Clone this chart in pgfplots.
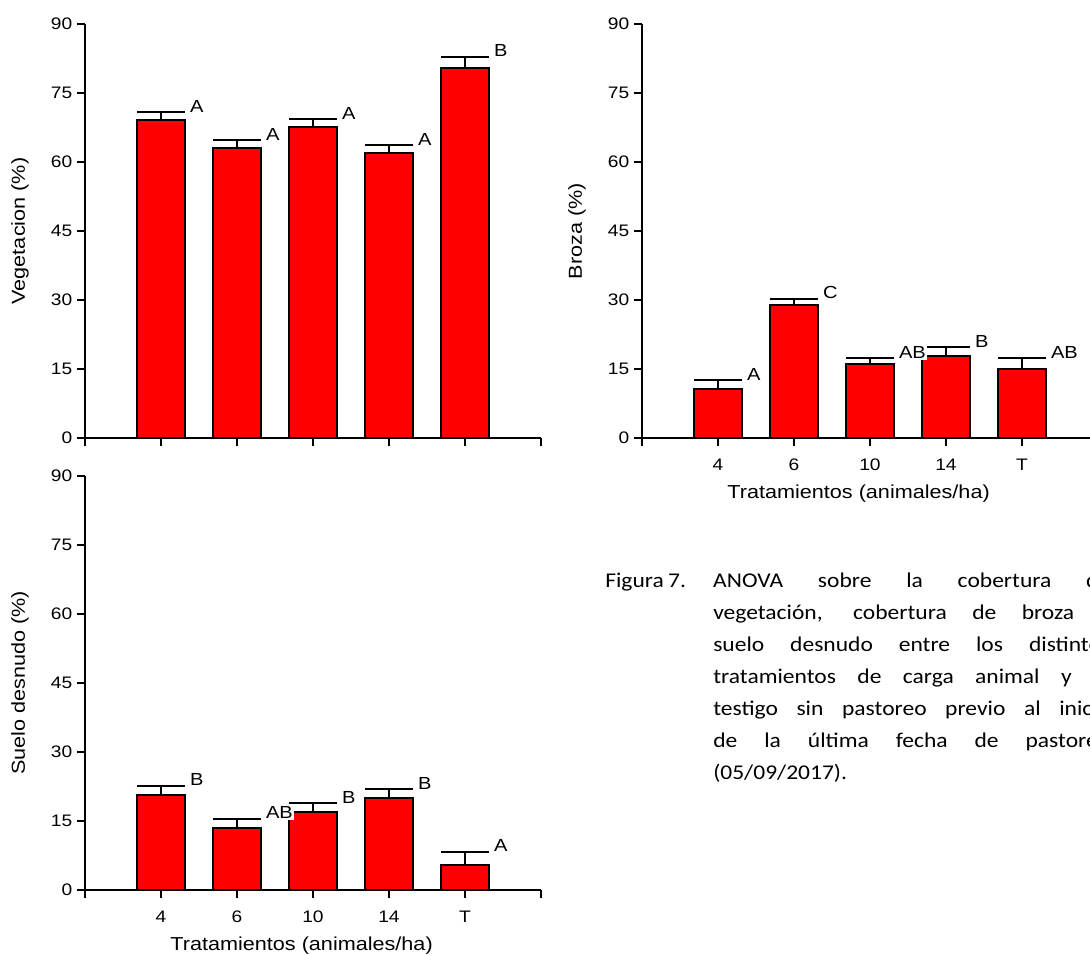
\documentclass[border=0pt]{standalone}
\usepackage{pgfplots}
\pgfplotsset{compat=1.18}
\usepackage{pgfplotstable}
\usepackage{fontspec}
\setmainfont{Liberation Sans}[FakeStretch=1.15]
\newfontfamily\capfont{Carlito}[FakeStretch=1.12]

\newlength{\px}\setlength{\px}{0.75pt}
\newlength{\capW}\setlength{\capW}{397\px}
\newcommand\tickfont{\fontsize{12.5pt}{14pt}\selectfont}
\newcommand\labfont{\fontsize{14.1pt}{16pt}\selectfont}
\newcommand\letfont{\fontsize{13.1pt}{15pt}\selectfont}

% mean, standard error and Tukey letter per stocking rate
\pgfplotstableread{
x v e lab
1 69.1 1.7 A
2 63.0 1.7 A
3 67.6 1.7 A
4 61.9 1.7 A
5 80.4 2.5 B
}\vegtab
\pgfplotstableread{
x v e lab
1 10.7 1.8 A
2 29.0 1.3 C
3 16.0 1.3 AB
4 17.9 1.8 B
5 14.9 2.4 AB
}\brozatab
\pgfplotstableread{
x v e lab
1 20.6 2.1 B
2 13.5 2.0 AB
3 16.9 2.0 B
4 19.9 2.0 B
5 5.5 2.8 A
}\suelotab

\pgfplotsset{
  prism/.style={
    scale only axis, width=342pt, height=310.5pt,
    xmin=0, xmax=6, ymin=0, ymax=90,
    axis x line*=bottom, axis y line*=left,
    axis line style={line width=1.4pt, -},
    ytick={0,15,...,90}, xtick={0,...,6},
    tick align=outside, major tick length=6pt,
    every tick/.style={black, line width=1.4pt},
    tick label style={font=\tickfont},
    xticklabel style={yshift=-6pt},
    label style={font=\labfont},
    /pgf/number format/assume math mode=true,
    clip=false,
    ylabel style={at={(axis description cs:-0.1425,0.5)}, anchor=center},
    xlabel style={at={(axis description cs:0.475,-0.134)}, anchor=center},
  },
  bars/.style={ybar, bar width=0.62, bar shift=0pt, fill=red, draw=black,
    line width=1.5pt,
    error bars/.cd, y dir=plus, y explicit,
    error bar style={line width=1.5pt, black},
    error mark options={rotate=90, line width=1.5pt, mark size=17.9pt, black}},
  letters/.style={draw=none, mark=none, nodes near coords,
    point meta=explicit symbolic,
    nodes near coords style={anchor=base west, xshift=20.5pt, fill=white,
      inner sep=1.1pt, font=\letfont, text=black}},
}

\begin{document}
\begin{tikzpicture}
\useasboundingbox (0,0) rectangle (817.5pt,716.25pt);
\begin{scope}
\clip (0,0) rectangle (817.5pt,716.25pt);

% vegetation cover
\begin{axis}[prism, at={(63.75pt,387.75pt)}, anchor=south west,
  xticklabels={,,,,,,}, ylabel={Vegetacion (\%)}]
\addplot[bars] table[x=x, y=v, y error=e] {\vegtab};
\addplot[letters] table[x=x, y expr=\thisrow{v}+\thisrow{e}, meta=lab] {\vegtab};
\end{axis}

% litter cover
\begin{axis}[prism, at={(481.5pt,387.75pt)}, anchor=south west,
  xticklabels={,4,6,10,14,T,}, ylabel={Broza (\%)},
  xlabel={Tratamientos (animales/ha)}]
\addplot[bars] table[x=x, y=v, y error=e] {\brozatab};
\addplot[letters] table[x=x, y expr=\thisrow{v}+\thisrow{e}, meta=lab] {\brozatab};
\end{axis}

% bare soil
\begin{axis}[prism, at={(63.75pt,48.75pt)}, anchor=south west,
  xticklabels={,4,6,10,14,T,}, ylabel={Suelo desnudo (\%)},
  xlabel={Tratamientos (animales/ha)}]
\addplot[bars] table[x=x, y=v, y error=e] {\suelotab};
\addplot[letters] table[x=x, y expr=\thisrow{v}+\thisrow{e}, meta=lab] {\suelotab};
\end{axis}

% figure caption
\node[anchor=base west, inner sep=0pt] at (453.75pt,275.25pt) {%
  \capfont\fontsize{15.75pt}{24pt}\selectfont
  \parbox[t]{600pt}{%
    \makebox[63\px][l]{Figura}\makebox[45\px][l]{7.}\makebox[\capW][s]{ANOVA sobre la cobertura de}\\
    \hspace*{108\px}\makebox[\capW][s]{vegetación, cobertura de broza y}\\
    \hspace*{108\px}\makebox[\capW][s]{suelo desnudo entre los distintos}\\
    \hspace*{108\px}\makebox[\capW][s]{tratamientos de carga animal y el}\\
    \hspace*{108\px}\makebox[\capW][s]{testigo sin pastoreo previo al inicio}\\
    \hspace*{108\px}\makebox[\capW][s]{de la última fecha de pastoreo}\\
    \hspace*{108\px}(05/09/2017).}};
\end{scope}
\end{tikzpicture}
\end{document}
